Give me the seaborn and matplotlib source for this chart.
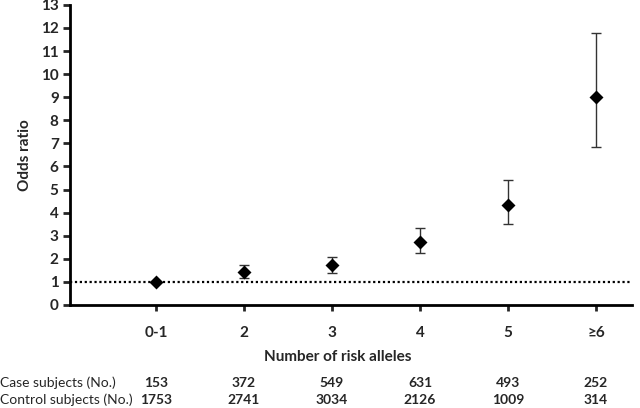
import numpy as np
import pandas as pd
import matplotlib
matplotlib.use("Agg")
import matplotlib.pyplot as plt
import matplotlib.transforms as mtransforms
import seaborn as sns

categories = ["0-1", "2", "3", "4", "5", "≥6"]
odds_ratio = [1.0, 1.45, 1.72, 2.75, 4.35, 9.0]
ci_low = [1.0, 1.15, 1.40, 2.25, 3.50, 6.85]
ci_high = [1.0, 1.75, 2.10, 3.35, 5.40, 11.8]
case_n = [153, 372, 549, 631, 493, 252]
control_n = [1753, 2741, 3034, 2126, 1009, 314]

sns.set_style("white")
plt.rcParams["font.family"] = ["Lato", "DejaVu Sans"]

df = pd.DataFrame({"alleles": categories, "or": odds_ratio})

fig = plt.figure(figsize=(6.4, 4.08), dpi=100)
ax = fig.add_axes([0.109, 0.2525, 0.8785, 0.7355])

# reference line at OR = 1
ax.axhline(1, color="black", linestyle=(0, (1, 1.2)), lw=1.6, xmax=0.997, zorder=1)

pos = np.arange(len(categories))
lo = np.array(odds_ratio) - np.array(ci_low)
hi = np.array(ci_high) - np.array(odds_ratio)
ax.errorbar(pos, odds_ratio, yerr=[lo, hi], fmt="none", ecolor="#333333",
            elinewidth=1.0, capsize=3.5, capthick=1.0, zorder=2)

sns.pointplot(data=df, x="alleles", y="or", order=categories, linestyle="none",
              markers="D", color="black", errorbar=None, markersize=5, ax=ax,
              zorder=3)

ax.set_xlim(-0.98, 5.41)
ax.set_ylim(0, 13)
ax.set_yticks(range(0, 14))
ax.set_xticks(pos)
ax.set_xticklabels([])
ax.set_xlabel("")
ax.set_ylabel("Odds ratio", fontsize=11, fontweight="bold", labelpad=6)

for side in ["top", "right"]:
    ax.spines[side].set_visible(False)
for side in ["left", "bottom"]:
    ax.spines[side].set_linewidth(2)
    ax.spines[side].set_color("black")
ax.tick_params(axis="y", direction="out", length=5, width=2, labelsize=11,
               left=True, pad=3)
ax.tick_params(axis="x", direction="out", length=4, width=2, bottom=True)
for lbl in ax.get_yticklabels():
    lbl.set_fontweight("bold")

trans = mtransforms.blended_transform_factory(ax.transData, fig.transFigure)
for i, c in enumerate(categories):
    ax.text(i, 1 - 333 / 408, c, transform=trans, ha="center", va="center",
            fontsize=11, fontweight="bold")
    ax.text(i, 1 - 383 / 408, str(case_n[i]), transform=trans, ha="center",
            va="center", fontsize=10, fontweight="bold")
    ax.text(i, 1 - 400 / 408, str(control_n[i]), transform=trans, ha="center",
            va="center", fontsize=10, fontweight="bold")

fig.text(338 / 640, 1 - 357 / 408, "Number of risk alleles", ha="center",
         va="center", fontsize=11, fontweight="bold")
fig.text(0.0, 1 - 383 / 408, "Case subjects (No.)", ha="left", va="center",
         fontsize=10)
fig.text(0.0, 1 - 400 / 408, "Control subjects (No.)", ha="left", va="center",
         fontsize=10)

fig.savefig("out.png", dpi=100)
